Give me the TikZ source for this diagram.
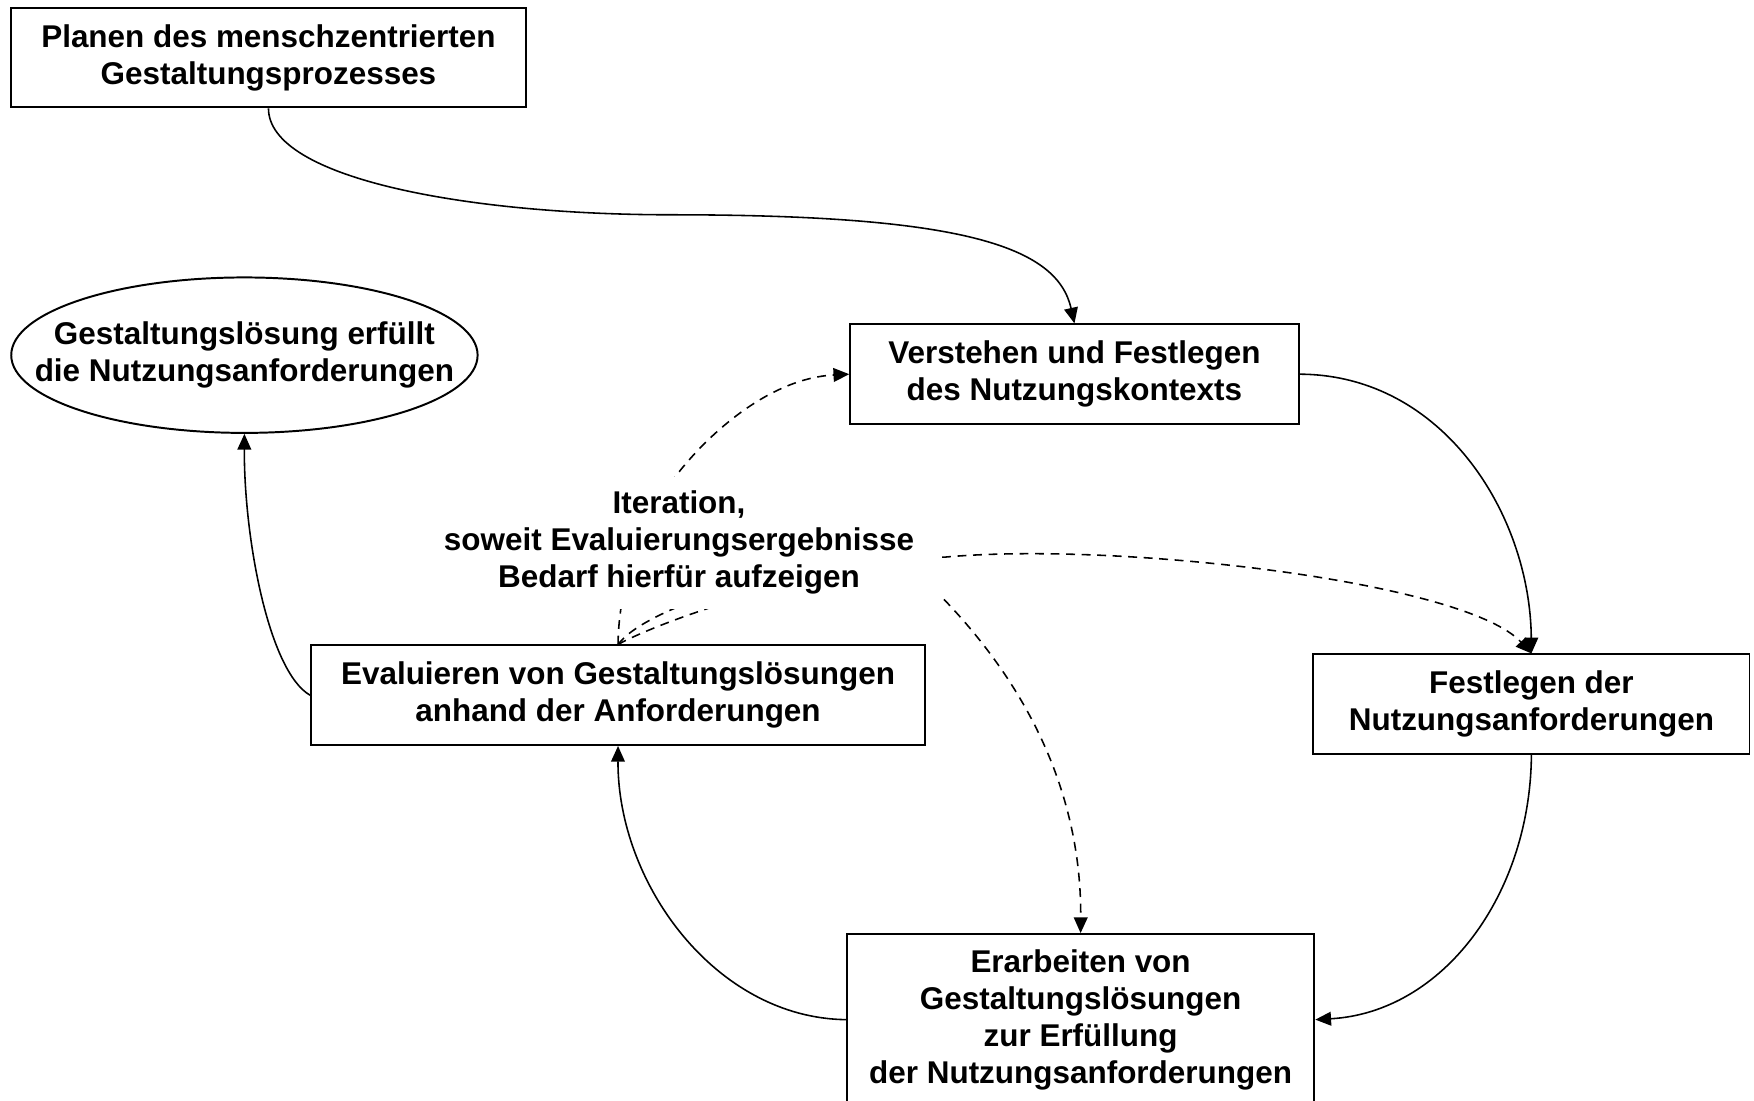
\documentclass[tikz,border=0pt]{standalone}
\usepackage{fontspec}
\setmainfont{Liberation Sans}
\usetikzlibrary{arrows.meta,shapes.geometric}
\begin{document}
\begin{tikzpicture}[x=0.02cm,y=0.02cm,
  font=\fontsize{16}{18.8}\selectfont\bfseries,
  box/.style={draw, line width=1pt, rectangle, inner sep=0pt, align=center, minimum height=1.78cm},
  oval/.style={draw, line width=1pt, ellipse, inner xsep=-1cm, inner ysep=0pt, align=center},
  conn/.style={line width=0.8pt, -{Triangle[length=8pt,width=7pt]}},
  iter/.style={conn, dash pattern=on 4.5pt off 3.4pt},
]
\useasboundingbox (0,0) rectangle (1568,-984);

\node[box, minimum width=9.2cm] (pl) at (240,-51.5) {Planen des menschzentrierten\\Gestaltungsprozesses};
\node[oval, minimum width=8.34cm, minimum height=2.78cm] (el) at (218.5,-317.5) {Gestaltungslösung erfüllt\\die Nutzungsanforderungen};
\node[box, minimum width=8.02cm] (vs) at (960.5,-334.5) {Verstehen und Festlegen\\des Nutzungskontexts};
\node[box, minimum width=10.98cm] (ev) at (552.5,-621.5) {Evaluieren von Gestaltungslösungen\\anhand der Anforderungen};
\node[box, minimum width=7.8cm] (fn) at (1369,-629.5) {Festlegen der\\Nutzungsanforderungen};
\node[box, minimum width=8.36cm, minimum height=3.06cm] (er) at (966,-911.5) {Erarbeiten von\\Gestaltungslösungen\\zur Erfüllung\\der Nutzungsanforderungen};

% solid connectors
\draw[conn] (pl.south) .. controls (240,-160) and (420,-192) .. (600,-192)
  .. controls (860,-192) and (945,-220) .. (vs.north);
\draw[conn] (vs.east) .. controls (1290,-335) and (1368,-460) .. (fn.north);
\draw[conn] (fn.south) .. controls (1368,-800) and (1290,-905) .. (er.east);
\draw[conn] (er.west) .. controls (640,-910) and (552,-790) .. (ev.south);
\draw[conn] (ev.west) .. controls (240,-600) and (218,-480) .. (el.south);

% dashed iteration connectors
\draw[iter] (ev.north) .. controls (553,-520) and (575,-465) .. (603,-427)
  .. controls (635,-385) and (690,-338) .. (vs.west);
\draw[iter] (ev.north) .. controls (575,-545) and (700,-500) .. (845,-498)
  .. controls (1000,-484) and (1310,-520) .. (fn.north);
\draw[iter] (ev.north) .. controls (590,-555) and (790,-480) .. (845,-537)
  .. controls (910,-605) and (967,-700) .. (er.north);

\node[fill=white, inner sep=0pt, align=center, minimum width=9.4cm, minimum height=2.36cm] (it) at (607,-485)
  {Iteration,\\soweit Evaluierungsergebnisse\\Bedarf hierfür aufzeigen};
\end{tikzpicture}
\end{document}
